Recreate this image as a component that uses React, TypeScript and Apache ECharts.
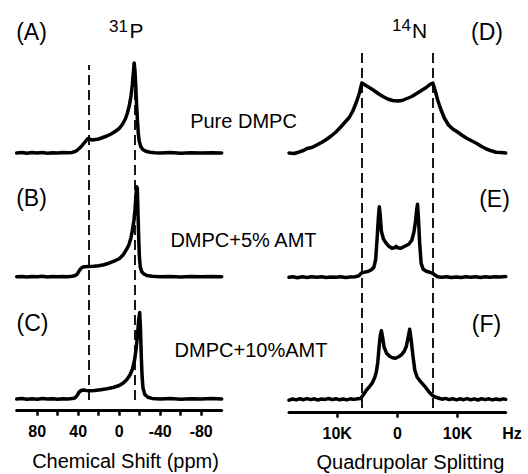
import React, { useEffect, useRef } from 'react';
import * as echarts from 'echarts';

// ---------- data ----------
const ppmTicks = [80, 60, 40, 20, 0, -20, -40, -60, -80];
const ppmLabels = [80, 40, 0, -40, -80];
const hzTicks = [-10, 0, 10];
const hzLabels = [-10, 0, 10];
const hzLabelText: Record<string, string> = { '-10': '10K', '0': '0', '10': '10K' };
const ppmDashed = [30, -15];
const hzDashed = [-5.9, 5.9];

const panelLetters = ['(A)', '(B)', '(C)', '(D)', '(E)', '(F)'];
const sampleNames = ['Pure DMPC', 'DMPC+5% AMT', 'DMPC+10%AMT'];
const axisNames = ['Chemical Shift (ppm)', 'Quadrupolar Splitting'];
const nuclei = [['31', 'P'], ['14', 'N']];
const hzUnit = 'Hz';

// 31P spectra: [ppm, intensity]
const p31Pure: number[][] = [
  [100, 0], [95, 0.5], [90, -0.3], [85, 0.4], [80, 0], [75, 0.5], [70, -0.2], [65, 0.3], [60, 0], [55, 0.4],
  [50, 0.2], [46, 0.6], [43, 1.5], [41, 2.8], [39, 4.5], [37, 6.5], [35, 9], [33, 11.5], [31, 14], [29.5, 14.5],
  [28, 13.5], [26, 13], [23, 13.5], [20, 14], [16, 15.5], [12, 17], [8, 19], [4, 21.5], [0, 24.5], [-3, 28.5],
  [-6, 34], [-8, 40], [-10, 48], [-11.5, 57], [-12.8, 68], [-13.8, 80], [-14.6, 90], [-15.4, 82], [-16.2, 66],
  [-17, 48], [-17.8, 32], [-18.6, 20], [-19.5, 12], [-21, 6.5], [-23, 3.5], [-26, 1.8], [-30, 0.8], [-35, 0.3],
  [-40, 0], [-50, 0.4], [-60, -0.2], [-70, 0.3], [-80, 0], [-90, 0.3], [-100, 0],
];
const p31Amt5: number[][] = [
  [100, 0], [95, 0.3], [90, -0.3], [85, 0.3], [80, 0], [75, 0.4], [70, -0.2], [65, 0.3], [60, 0], [55, 0.3],
  [50, 0], [46, 0.4], [43, 1.2], [41, 2.5], [39.5, 5], [38, 7.5], [36.5, 9], [34, 10], [30, 10.2], [25, 10.5],
  [20, 11], [15, 12], [10, 13.5], [5, 15.5], [0, 18], [-4, 22], [-7, 27], [-9.5, 32], [-11.5, 39], [-13, 47],
  [-14.3, 56], [-15.4, 67], [-16.3, 80], [-17, 90], [-17.7, 88], [-18.3, 65], [-19, 40], [-19.7, 20], [-20.5, 10],
  [-22, 5], [-24, 2.8], [-27, 1.2], [-32, 0.4], [-40, 0], [-50, 0.3], [-60, -0.2], [-70, 0.3], [-80, 0], [-90, 0.3],
  [-100, 0],
];
const p31Amt10: number[][] = [
  [100, 0], [95, 0.4], [90, -0.3], [85, 0.3], [80, -0.2], [75, 0.4], [70, 0], [65, 0.3], [60, -0.2], [55, 0.3],
  [50, 0], [46, 0.4], [43.5, 1], [42, 2.2], [40.5, 4.5], [39, 7], [37, 8.5], [35, 9], [32, 8.6], [28, 8.3],
  [24, 8.5], [18, 9.3], [12, 10.2], [6, 11.5], [0, 13.5], [-4, 16], [-7.5, 19.5], [-10.5, 24], [-13, 30], [-15, 39],
  [-16.5, 50], [-17.8, 63], [-19, 79], [-20, 86.5], [-20.7, 72], [-21.4, 48], [-22.2, 25], [-23.2, 11], [-25, 4.5],
  [-28, 1.8], [-32, 0.6], [-40, 0], [-50, 0.4], [-60, -0.2], [-70, 0.3], [-80, 0], [-90, 0.4], [-100, 0],
];

// 14N spectra: [kHz, intensity]
const n14Pure: number[][] = [
  [-18, 0], [-17.2, -0.5], [-16.4, 0.8], [-15.6, 2.5], [-15, 4.5], [-14.2, 5.5], [-13.4, 8], [-12.6, 10.5],
  [-11.8, 13.5], [-11, 17], [-10.2, 21], [-9.4, 26], [-8.6, 31.5], [-8, 35.5], [-7.4, 42], [-6.8, 51], [-6.3, 60],
  [-5.9, 70], [-5.5, 68.5], [-4.8, 66], [-4, 63], [-3.2, 59.5], [-2.4, 56.5], [-1.6, 54], [-0.8, 52.5], [0, 52],
  [0.8, 52.5], [1.6, 54.5], [2.4, 56.5], [3.2, 59.5], [4, 62.5], [4.8, 65.5], [5.4, 68.5], [5.9, 70], [6.3, 62],
  [6.7, 53], [7.2, 44], [7.8, 35], [8.5, 28], [9.2, 24], [10, 21], [10.8, 17.5], [11.6, 14.5], [12.4, 12],
  [13.2, 9.5], [14, 6.5], [14.8, 4], [15.6, 2.2], [16.4, 0.8], [17.2, 0.5], [18, 0],
];
const n14Amt5: number[][] = [
  [-18, 0], [-17.3, 0.6], [-16.6, -0.4], [-15.8, 0.5], [-15, -0.2], [-14.2, 0.6], [-13.4, 0], [-12.6, 0.5],
  [-11.8, -0.3], [-11, 0.4], [-10.2, 0], [-9.4, 0.5], [-8.6, -0.2], [-7.8, 0.4], [-7, 0.6], [-6.4, 1.5], [-6, 4.2],
  [-5.4, 5.2], [-4.8, 6], [-4.3, 7.5], [-3.9, 10], [-3.6, 18], [-3.35, 40], [-3.15, 60], [-3.0, 70.5], [-2.85, 62],
  [-2.65, 46], [-2.3, 38], [-1.9, 34.5], [-1.4, 31], [-0.9, 29], [-0.5, 29.5], [-0.2, 31], [0.1, 29.5], [0.5, 29],
  [0.9, 30], [1.4, 31.5], [1.9, 33], [2.4, 37], [2.75, 45], [3.0, 55], [3.2, 67], [3.35, 73], [3.5, 60], [3.7, 35],
  [3.95, 14], [4.3, 8], [4.8, 6], [5.4, 5], [5.9, 4], [6.3, 2], [6.7, 0.5], [7.4, 0], [8.2, 0.5], [9, -0.3],
  [9.8, 0.4], [10.6, -0.2], [11.4, 0.6], [12.2, 0], [13, 0.5], [13.8, -0.3], [14.6, 0.5], [15.4, 0], [16.2, 0.6],
  [17, 0.2], [18, 0.8],
];
const n14Amt10: number[][] = [
  [-18, 0], [-17.4, 1.2], [-16.8, 0.3], [-16.2, 1.5], [-15.6, 0.5], [-15, 1.6], [-14.4, 0.6], [-13.8, 1.4],
  [-13.2, 0.2], [-12.6, 1.3], [-12, 0.8], [-11.4, 1.7], [-10.8, 0.6], [-10.2, 1.5], [-9.6, 0.4], [-9, 1.2],
  [-8.4, 0.3], [-7.8, 1.4], [-7.2, 0.8], [-6.6, 1.5], [-6.1, 1.8], [-5.7, 5], [-5.2, 9.5], [-4.7, 13], [-4.2, 17],
  [-3.8, 22], [-3.5, 28], [-3.25, 38], [-3.05, 52], [-2.85, 64], [-2.65, 69.5], [-2.45, 63], [-2.2, 53], [-1.8, 47],
  [-1.3, 44], [-0.8, 42.5], [-0.3, 42], [0.2, 43.5], [0.7, 45.5], [1.1, 48.5], [1.5, 54], [1.8, 63], [2.05, 71],
  [2.3, 60], [2.6, 44], [2.9, 30], [3.3, 23], [3.8, 19], [4.3, 15.5], [4.8, 12], [5.3, 8], [5.8, 5], [6.3, 3.2],
  [6.8, 2.2], [7.4, 1], [8, 1.8], [8.6, 0.6], [9.2, 1.5], [9.8, 0.3], [10.4, 1.4], [11, 0.5], [11.6, 1.6],
  [12.2, 0.4], [12.8, 1.3], [13.4, 0.2], [14, 1.5], [14.6, 0.6], [15.2, 1.4], [15.8, 0.3], [16.4, 1.2], [17, 0.5],
  [17.6, 1.3], [18, 0.8],
];

// ---------- layout ----------
const FONT = "'Liberation Sans', Arial, Helvetica, sans-serif";
const LEFT = { left: 16.7, width: 205, min: -100, max: 100, inverse: true };
const RIGHT = { left: 289, width: 216.7, min: -18, max: 18, inverse: false };
const leftBaselines = [153, 276.7, 399];
const rightBaselines = [153, 277.3, 400.2];

function buildOption() {
  const grid: any[] = [];
  const xAxis: any[] = [];
  const yAxis: any[] = [];
  const series: any[] = [];

  const addGrid = (col: any, top: number, height: number, ymin: number, ymax: number, xExtra: any = { show: false }) => {
    const idx = grid.length;
    grid.push({ left: col.left, width: col.width, top, height, containLabel: false });
    xAxis.push({ gridIndex: idx, type: 'value', min: col.min, max: col.max, inverse: col.inverse, splitLine: { show: false }, ...xExtra });
    yAxis.push({ gridIndex: idx, type: 'value', min: ymin, max: ymax, show: false, splitLine: { show: false } });
    return idx;
  };

  const spectra = [
    [LEFT, leftBaselines[0], p31Pure],
    [LEFT, leftBaselines[1], p31Amt5],
    [LEFT, leftBaselines[2], p31Amt10],
    [RIGHT, rightBaselines[0], n14Pure],
    [RIGHT, rightBaselines[1], n14Amt5],
    [RIGHT, rightBaselines[2], n14Amt10],
  ] as any[];

  spectra.forEach(([col, base, data]) => {
    const idx = addGrid(col, base - 100, 110, -10, 100);
    series.push({
      type: 'line', xAxisIndex: idx, yAxisIndex: idx, data, showSymbol: false, symbol: 'none',
      clip: false, silent: true,
      lineStyle: { color: '#000', width: 3.5, join: 'round', cap: 'round' },
    });
  });

  // dashed guide lines
  const dashed = [
    [LEFT, 65, 335, ppmDashed],
    [RIGHT, 48, 360, hzDashed],
  ] as any[];
  dashed.forEach(([col, top, h, vals]) => {
    const idx = addGrid(col, top, h, 0, 1);
    series.push({
      type: 'line', xAxisIndex: idx, yAxisIndex: idx, data: [], silent: true,
      markLine: {
        silent: true, symbol: ['none', 'none'], label: { show: false }, animation: false,
        lineStyle: { color: '#000', width: 1.8, type: [10, 5] },
        data: vals.map((v: number) => ({ xAxis: v })),
      },
    });
  });

  // bottom axes
  const axisCommon = (ticks: number[], labels: number[], fmt: (v: number) => string) => ({
    show: true,
    axisLine: { show: true, onZero: false, lineStyle: { color: '#000', width: 3 } },
    axisTick: { show: true, inside: false, length: 5, customValues: ticks, lineStyle: { color: '#000', width: 2.5 } },
    axisLabel: {
      show: true, customValues: labels, margin: 13, color: '#000', fontWeight: 'bold', fontSize: 16,
      fontFamily: FONT, formatter: fmt,
    },
    splitLine: { show: false },
  });
  addGrid(LEFT, 400.7, 10, 0, 1, axisCommon(ppmTicks, ppmLabels, (v) => String(v)));
  addGrid(RIGHT, 402.7, 10, 0, 1, axisCommon(hzTicks, hzLabels, (v) => hzLabelText[String(Math.round(v))] ?? String(v)));

  const txt = (text: string, x: number, y: number, size: number, align = 'center', weight = 'normal') => ({
    type: 'text', x, y, silent: true,
    style: {
      text, fill: '#000', font: `${weight} ${size}px ${FONT}`,
      textAlign: align, textVerticalAlign: 'middle', align, verticalAlign: 'middle',
    },
  });

  const letterPos = [[31.5, 32], [31.5, 198], [32.5, 323], [487, 32], [494.5, 198.5], [486.5, 324]];
  const namePos = [[243.5, 121], [243.5, 240], [251, 350]];
  const graphic: any[] = [];
  panelLetters.forEach((t, i) => graphic.push(txt(t, letterPos[i][0], letterPos[i][1], 23)));
  sampleNames.forEach((t, i) => graphic.push(txt(t, namePos[i][0], namePos[i][1], 20)));
  graphic.push(txt(axisNames[0], 125.5, 461, 20));
  graphic.push(txt(axisNames[1], 410.5, 461.5, 20));
  graphic.push(txt(hzUnit, 512, 433, 16, 'center', 'bold'));
  graphic.push(txt(nuclei[0][0], 128, 26, 17, 'right'));
  graphic.push(txt(nuclei[0][1], 129.5, 30.5, 21, 'left'));
  graphic.push(txt(nuclei[1][0], 411, 25.5, 17, 'right'));
  graphic.push(txt(nuclei[1][1], 412, 30.5, 21, 'left'));

  return {
    animation: false,
    backgroundColor: '#fff',
    grid, xAxis, yAxis, series, graphic,
  };
}

export default function App() {
  const ref = useRef<HTMLDivElement>(null);
  useEffect(() => {
    if (!ref.current) return;
    const chart = echarts.init(ref.current, undefined, { renderer: 'svg' });
    chart.setOption(buildOption() as any);
    return () => chart.dispose();
  }, []);
  return (
    <div
      ref={ref}
      style={{ position: 'fixed', left: 0, top: 0, width: 528, height: 474, background: '#fff' }}
    />
  );
}
